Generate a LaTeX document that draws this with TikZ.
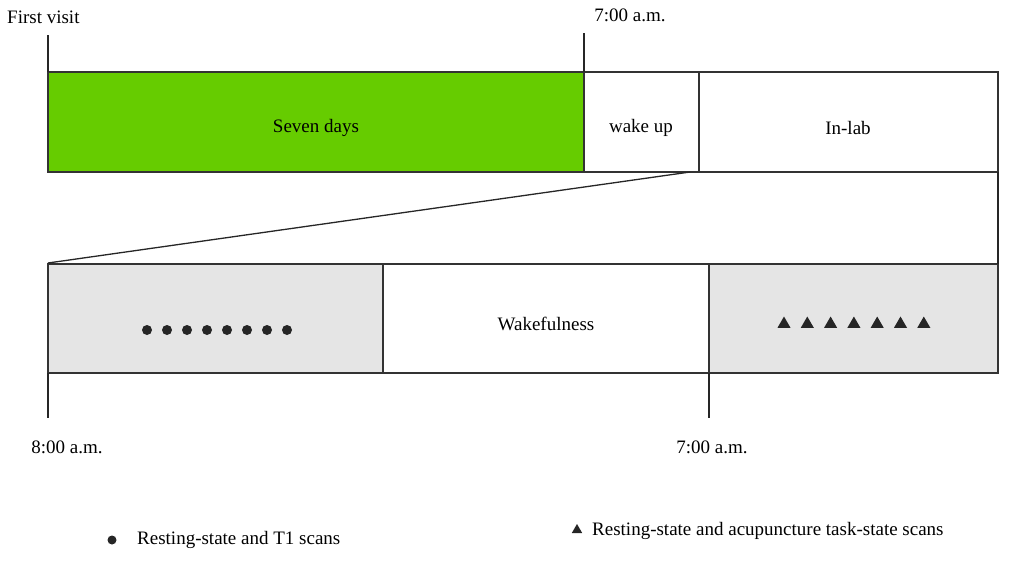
\documentclass[tikz,border=0pt]{standalone}
\usepackage{fontspec}
\setmainfont{Liberation Serif}
\begin{document}
\begin{tikzpicture}[x=1pt,y=-1pt,
  bx/.style={draw=black!80,line width=1.3pt,minimum height=0pt,inner sep=0pt},
  lbl/.style={font=\fontsize{19}{22}\selectfont,inner sep=0pt},
  ln/.style={draw=black!85,line width=1.3pt},
  dot/.style={circle,fill=black!85,minimum size=10pt,inner sep=0pt},
  tri/.style={regular polygon,regular polygon sides=3,fill=black!85,minimum size=15pt,inner sep=0pt}]
\usetikzlibrary{shapes.geometric}
\useasboundingbox (0,0) rectangle (1021,565);
% top bar
\path[bx,fill={rgb,255:red,102;green,204;blue,0}] (48,72) rectangle (584,172);
\path[bx] (584,72) rectangle (699,172);
\path[bx] (699,72) rectangle (998,172);
\node[lbl] (seven) at (316,128) {Seven days};
\node[lbl] (wake) at (641,128) {wake up};
\node[lbl] (inlab) at (848,128) {In-lab};
\coordinate (t1a) at (48,35); \coordinate (t1b) at (48,72);
\coordinate (t2a) at (584,33); \coordinate (t2b) at (584,72);
\draw[ln] (t1a) -- (t1b); \draw[ln] (t2a) -- (t2b);
\node[lbl,anchor=west] (fv) at (7,17) {First visit};
\node[lbl] (t700a) at (630,15) {7:00 a.m.};
% bottom bar
\path[bx,fill=black!10] (48,264) rectangle (383,373);
\path[bx] (383,264) rectangle (709,373);
\path[bx,fill=black!10] (709,264) rectangle (998,373);
\node[lbl] (wakef) at (546,324) {Wakefulness};
\coordinate (z1) at (690,172); \coordinate (z2) at (48,263);
\coordinate (z3) at (998,172); \coordinate (z4) at (998,264);
\draw[ln] (z1) -- (z2); \draw[ln] (z3) -- (z4);
\coordinate (b1a) at (48,373); \coordinate (b1b) at (48,418);
\coordinate (b2a) at (709,373); \coordinate (b2b) at (709,418);
\draw[ln] (b1a) -- (b1b); \draw[ln] (b2a) -- (b2b);
\node[lbl] (t800) at (67,447) {8:00 a.m.};
\node[lbl] (t700b) at (712,447) {7:00 a.m.};
\foreach \i in {0,...,7} \node[dot] (d\i) at (147+20*\i,330) {};
\foreach \i in {0,...,6} \node[tri] (r\i) at (784+23.3*\i,324) {};
% legend
\node[dot,minimum size=9pt] (ld) at (112,540) {};
\node[lbl,anchor=west] (lt1) at (137,540) {Resting-state and T1 scans};
\node[tri,minimum size=12pt] (lr) at (577,530) {};
\node[lbl,anchor=west] (lt2) at (592,531) {Resting-state and acupuncture task-state scans};
\end{tikzpicture}
\end{document}
